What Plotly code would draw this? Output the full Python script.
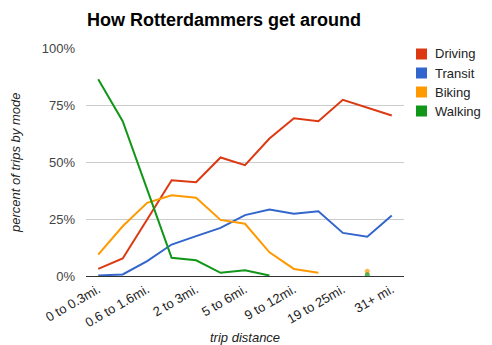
import plotly.graph_objects as go

tick_labels = ["0 to 0.3mi.", "0.6 to 1.6mi.", "2 to 3mi.", "5 to 6mi.", "9 to 12mi.", "19 to 25mi.", "31+ mi."]
x_index = list(range(13))
tick_positions = [0, 2, 4, 6, 8, 10, 12]
y_ticks = [0, 25, 50, 75, 100]
y_tick_labels = ["0%", "25%", "50%", "75%", "100%"]

driving = [3.1, 7.7, 24.8, 42.0, 41.1, 52.0, 48.6, 60.3, 69.2, 67.9, 77.3, 73.8, 70.4]
transit = [0.2, 0.7, 6.5, 13.8, 17.5, 21.1, 26.7, 29.2, 27.3, 28.4, 18.9, 17.2, 26.5]
biking = [9.4, 21.8, 32.1, 35.4, 34.3, 24.6, 22.9, 10.4, 3.1, 1.4, None, 2.1, None]
walking = [86.3, 67.9, 38.0, 8.0, 6.9, 1.4, 2.5, 0.2, None, None, None, 0.6, None]

series = [("Driving", driving, "#dc3912"), ("Transit", transit, "#3366cc"),
          ("Biking", biking, "#ff9900"), ("Walking", walking, "#109618")]

W, H = 492, 345
L, R, T, B = 86, 88, 48, 69

fig = go.Figure()
for name, vals, col in series:
    sizes = []
    for i, v in enumerate(vals):
        prev_none = i == 0 or vals[i - 1] is None
        next_none = i == len(vals) - 1 or vals[i + 1] is None
        sizes.append(5 if (v is not None and prev_none and next_none) else 0)
    fig.add_trace(go.Scatter(x=x_index, y=vals, name=name, mode="lines+markers",
                             line=dict(color=col, width=2),
                             marker=dict(color=col, size=sizes, line=dict(width=0)),
                             connectgaps=False, showlegend=False, hoverinfo="skip"))

fig.update_layout(
    width=W, height=H, margin=dict(l=L, r=R, t=T, b=B),
    paper_bgcolor="white", plot_bgcolor="white",
    font=dict(family="Liberation Sans, Arial", size=13, color="#444"),
    title=dict(text="<b>How Rotterdammers get around</b>", x=87 / W, xanchor="left",
               xref="container", y=1 - 20 / H, yanchor="middle", yref="container",
               font=dict(size=18, color="#000", family="Liberation Sans, Arial")),
    xaxis=dict(range=[-0.5, 12.5], tickvals=tick_positions, ticktext=tick_labels,
               tickangle=-30, showgrid=False, zeroline=False, showline=True,
               linecolor="#333", linewidth=1, ticks="", automargin=False,
               tickfont=dict(size=13, color="#222")),
    yaxis=dict(range=[0, 100], tickvals=y_ticks, ticktext=y_tick_labels,
               showgrid=True, gridcolor="#cccccc", gridwidth=1, zeroline=False,
               showline=False, ticks="", automargin=False, ticklabelstandoff=10,
               tickfont=dict(size=13, color="#444")),
)

fig.add_annotation(text="<i>trip distance</i>", xref="paper", yref="paper", showarrow=False,
                   x=(245 - L) / (W - L - R), y=-(337 - (H - B)) / (H - T - B),
                   xanchor="center", yanchor="middle", font=dict(size=13, color="#222"))
fig.add_annotation(text="<i>percent of trips by mode</i>", xref="paper", yref="paper",
                   showarrow=False, textangle=-90,
                   x=-(L - 15) / (W - L - R), y=(H - B - 163) / (H - T - B),
                   xanchor="center", yanchor="middle", font=dict(size=13, color="#222"))

# legend drawn manually (square swatches)
leg_x0 = 416
leg_y = [54, 73, 92, 111]
for (name, _, col), yy in zip(series, leg_y):
    fig.add_shape(type="rect", xref="paper", yref="paper",
                  x0=(leg_x0 - L) / (W - L - R), x1=(leg_x0 + 11 - L) / (W - L - R),
                  y0=(H - B - (yy + 5.5)) / (H - T - B), y1=(H - B - (yy - 5.5)) / (H - T - B),
                  fillcolor=col, line=dict(width=0))
    fig.add_annotation(text=name, xref="paper", yref="paper", showarrow=False,
                       x=(leg_x0 + 17 - L) / (W - L - R), xanchor="left",
                       y=(H - B - yy) / (H - T - B), yanchor="middle",
                       font=dict(size=13, color="#222"))

fig.write_html("out.html")
